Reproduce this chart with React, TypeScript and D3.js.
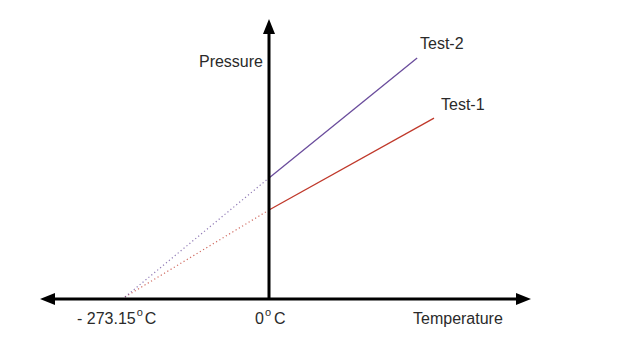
import * as d3 from "d3";

const width = 640;
const height = 360;

// temperature in °C, pressure in arbitrary units
const tempExtent = [-273.15, 0];
const test1Temps = [-273.15, 0, 313];
const test1Pressure = [0, 31.4, 64.6];
const test2Temps = [-273.15, 0, 281];
const test2Pressure = [0, 43, 86.3];
const seriesNames = ["Test-1", "Test-2"];
const seriesColors = ["#c0392b", "#6a4c9c"];

type Pt = { t: number; p: number };

function App() {
  const x = d3.scaleLinear().domain(tempExtent).range([125, 269]);
  const y = d3.scaleLinear().domain([0, 100]).range([297, 20]);

  const series: Pt[][] = [
    test1Temps.map((t, i) => ({ t, p: test1Pressure[i] })),
    test2Temps.map((t, i) => ({ t, p: test2Pressure[i] })),
  ];
  const line = d3
    .line<Pt>()
    .x((d) => x(d.t))
    .y((d) => y(d.p));

  const x0 = x(0);
  const y0 = y(0) + 2;
  const font = "'Liberation Sans', Arial, sans-serif";

  return (
    <svg
      width={width}
      height={height}
      style={{ position: "absolute", left: 0, top: 0, background: "#fff" }}
    >
      {/* extrapolated dotted segments */}
      {series.map((s, i) => (
        <path
          key={"dot" + i}
          d={line(s.slice(0, 2)) || ""}
          fill="none"
          stroke={seriesColors[i]}
          strokeOpacity={0.75}
          strokeWidth={1.2}
          strokeDasharray="1.2 2.6"
        />
      ))}
      {/* measured segments */}
      {series.map((s, i) => (
        <path
          key={"line" + i}
          d={line(s.slice(1)) || ""}
          fill="none"
          stroke={seriesColors[i]}
          strokeWidth={1.3}
        />
      ))}

      {/* axes */}
      <line x1={52} y1={y0} x2={518} y2={y0} stroke="#000" strokeWidth={3} />
      <path d={`M40,${y0} L55,${y0 - 6} L55,${y0 + 6} Z`} fill="#000" />
      <path d={`M531,${y0} L516,${y0 - 6} L516,${y0 + 6} Z`} fill="#000" />
      <line x1={x0} y1={y0} x2={x0} y2={32} stroke="#000" strokeWidth={3} />
      <path d={`M${x0},19 L${x0 - 6},34 L${x0 + 6},34 Z`} fill="#000" />

      <g fontFamily={font} fontSize={16} fill="#2a2a2a">
        <text x={263} y={67} textAnchor="end">Pressure</text>
        <text x={420} y={49}>{seriesNames[1]}</text>
        <text x={441} y={110}>{seriesNames[0]}</text>
        <text x={413} y={324}>Temperature</text>
        <text x={77} y={324}>
          - 273.15<tspan fontSize={11} dy={-8} dx={1}>o</tspan>
          <tspan dy={8} dx={2}>C</tspan>
        </text>
        <text x={x(0) - 14} y={324}>
          0<tspan fontSize={11} dy={-8} dx={1}>o</tspan>
          <tspan dy={8} dx={3}>C</tspan>
        </text>
      </g>
    </svg>
  );
}

export default App;
